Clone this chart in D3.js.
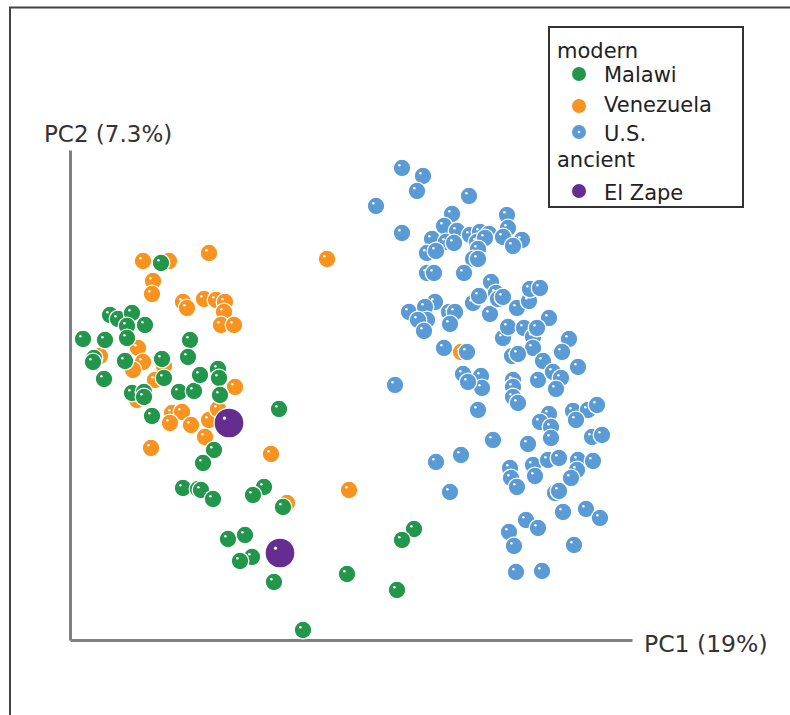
<!DOCTYPE html>
<html><head><meta charset="utf-8">
<script src="https://cdn.jsdelivr.net/npm/d3@7"></script>
<style>html,body{margin:0;padding:0;background:#fff;}svg{display:block;}</style>
</head><body>
<svg id="chart" width="790" height="715"></svg>
<script>
// PC scores (arbitrary units along PC1 / PC2)
const malawi = [[91,377],[40,325],[48,321],[62,327],[57,314],[75,315],[13,301],[35,300],[57,302],[24,282],[23,278],[55,279],[92,281],[34,261],[94,262],[62,247],[74,248],[74,243],[109,248],[124,249],[120,300],[118,283],[130,265],[148,271],[149,262],[150,245],[82,224],[209,231],[144,190],[133,177],[113,152],[128,151],[131,150],[143,141],[194,153],[183,145],[213,133],[158,101],[175,105],[182,83],[170,79],[204,58],[277,66],[233,10],[344,111],[332,100],[327,50]];
const venezuela = [[73,379],[99,379],[139,387],[83,359],[82,346],[113,338],[117,332],[134,341],[146,340],[155,338],[154,328],[151,315],[164,315],[30,284],[68,292],[73,278],[63,270],[94,274],[85,260],[67,240],[165,253],[102,227],[112,228],[100,217],[121,215],[139,220],[148,231],[135,203],[81,192],[201,186],[279,150],[217,137],[257,381],[391,288]];
const us = [[332,472],[353,464],[347,449],[399,444],[306,434],[382,426],[437,425],[332,407],[374,414],[387,409],[400,405],[410,408],[419,406],[438,412],[452,400],[362,401],[376,398],[384,397],[407,398],[415,402],[433,403],[443,394],[357,387],[366,389],[408,391],[403,381],[408,381],[357,367],[364,367],[394,367],[421,358],[365,338],[339,328],[355,333],[357,320],[348,320],[354,309],[379,328],[385,328],[380,316],[403,337],[409,344],[420,326],[426,347],[428,341],[433,343],[449,333],[447,332],[459,339],[460,351],[374,292],[397,288],[433,302],[438,313],[454,312],[463,303],[470,352],[479,322],[467,312],[463,292],[499,301],[492,288],[442,284],[448,286],[473,279],[508,273],[411,264],[412,252],[393,266],[398,258],[443,260],[443,253],[443,243],[448,237],[468,260],[483,268],[491,262],[486,251],[408,230],[479,226],[470,218],[481,213],[481,202],[503,229],[518,230],[527,235],[506,220],[423,200],[458,196],[522,203],[532,205],[440,172],[463,175],[478,180],[489,182],[508,180],[523,179],[366,178],[391,185],[380,148],[441,162],[447,153],[465,164],[507,170],[501,162],[485,147],[489,149],[493,128],[516,131],[530,122],[456,120],[468,112],[439,108],[444,94],[504,95],[446,68],[472,69],[325,255]];
const elZape = [[159,217],[210,87]];

const groups = ["modern","ancient"];
const categories = ["Malawi","Venezuela","U.S.","El Zape"];
const axisLabels = ["PC1 (19%)","PC2 (7.3%)"];
const colors = {"Malawi":"#22964a","Venezuela":"#f7931e","U.S.":"#5b9bd5","El Zape":"#662d91"};

const svg = d3.select("#chart");
const font = "'DejaVu Sans', Verdana, sans-serif";

// outer frame
svg.append("rect").attr("x",10).attr("y",7.5).attr("width",900).attr("height",900)
  .attr("fill","none").attr("stroke","#444").attr("stroke-width",2);

const x = d3.scaleLinear().domain([0,562]).range([70,632]);
const y = d3.scaleLinear().domain([0,490]).range([640,150]);

// axes (no ticks)
const xAxis = d3.axisBottom(x).tickValues([]).tickSizeOuter(0);
const yAxis = d3.axisLeft(y).tickValues([]).tickSizeOuter(0);
const gx = svg.append("g").attr("transform",`translate(0,${y(0)})`).call(xAxis);
const gy = svg.append("g").attr("transform",`translate(${x(0)},0)`).call(yAxis);
[gx,gy].forEach(g=>g.select(".domain").attr("stroke","#808080").attr("stroke-width",3));

svg.append("text").attr("x",x(562)+12).attr("y",y(0)+12).text(axisLabels[0])
  .attr("font-family",font).attr("font-size",23.5).attr("fill","#333");
svg.append("text").attr("x",44).attr("y",142).text(axisLabels[1])
  .attr("font-family",font).attr("font-size",23).attr("fill","#333");

function drawSeries(data, name, r){
  const g = svg.append("g");
  const sel = g.selectAll("g").data(data).join("g")
    .attr("transform",d=>`translate(${x(d[0])},${y(d[1])})`);
  sel.append("circle").attr("r",r).attr("fill",colors[name])
    .attr("stroke","#fff").attr("stroke-width",1.3);
  sel.append("circle").attr("r",r>10?1.6:1.3).attr("cx",-r*0.3).attr("cy",-r*0.32).attr("fill","#fff");
}
drawSeries(venezuela,"Venezuela",8.8);
drawSeries(malawi,"Malawi",8.8);
drawSeries(us,"U.S.",8.8);
drawSeries(elZape,"El Zape",15);

// legend
const lg = svg.append("g");
lg.append("rect").attr("x",549).attr("y",27).attr("width",194).attr("height",180)
  .attr("fill","#fff").attr("stroke","#333").attr("stroke-width",2);
const lt = (t,xx,yy)=>lg.append("text").attr("x",xx).attr("y",yy).text(t)
  .attr("font-family",font).attr("font-size",21).attr("fill","#222");
lt(groups[0],557,58);
lt(groups[1],557,167);
const items = [[categories[0],74,82],[categories[1],106,112],[categories[2],132,141],[categories[3],191,200]];
items.forEach(([name,cy,by])=>{
  lg.append("circle").attr("cx",579).attr("cy",cy).attr("r",7).attr("fill",colors[name]);
  if(name==="U.S.") lg.append("circle").attr("cx",579).attr("cy",cy).attr("r",1.2).attr("fill","#fff");
  lt(name,604,by);
});
</script>
</body></html>
